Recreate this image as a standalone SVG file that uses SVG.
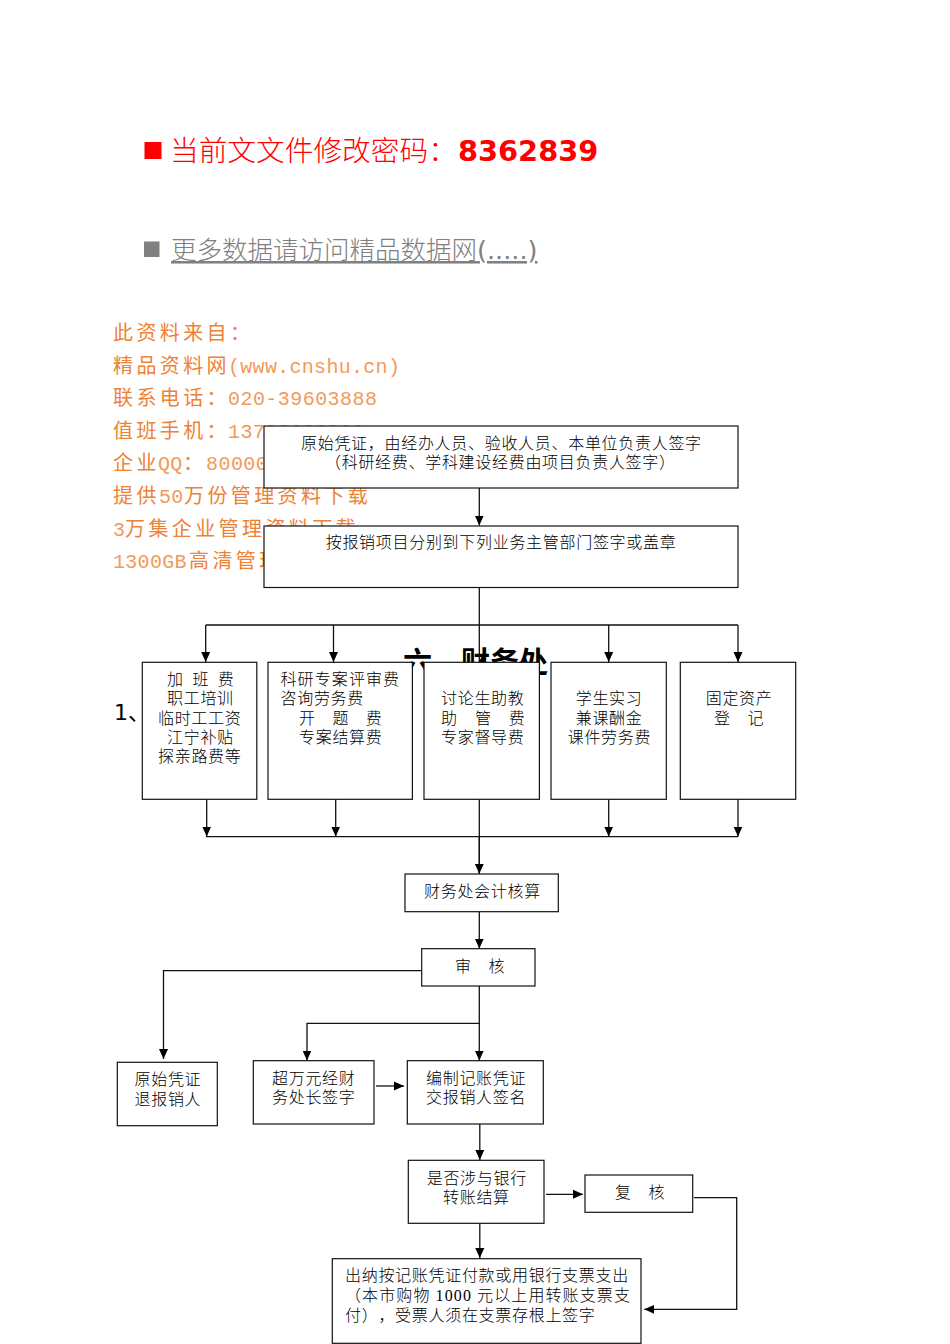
<svg xmlns="http://www.w3.org/2000/svg" width="950" height="1344" viewBox="0 0 950 1344">
<style>
text{text-spacing-trim:space-all}
.t{font-family:"Liberation Serif","Noto Sans CJK SC",serif;font-size:16px;letter-spacing:.7px;fill:#000;font-weight:300}
.b{fill:#fff;stroke:#111;stroke-width:1.2}
.c{fill:none;stroke:#111;stroke-width:1.3}
.a{marker-end:url(#ah)}
.o{font-family:"Liberation Mono","Noto Sans CJK SC",monospace;font-size:20px;fill:#ee8236;font-weight:400}
.z{letter-spacing:3.4px}
.l{letter-spacing:.3px;fill:#f29a5a}
.d{letter-spacing:.45px}
</style>
<defs><marker id="ah" markerUnits="userSpaceOnUse" markerWidth="10" markerHeight="10" refX="10" refY="5" orient="auto"><path d="M0 .5L10 5L0 9.5Z" fill="#000"/></marker></defs>
<rect width="950" height="1344" fill="#fff"/>
<g id="notices">
<rect x="144.5" y="142" width="17" height="17" fill="#f00"/>
<text x="170" y="161" font-family="'DejaVu Sans','Noto Sans CJK SC',sans-serif" font-size="28.7" fill="#f00" font-weight="300">当前文文件修改密码：<tspan x="458" font-size="28.8" font-weight="700">8362839</tspan></text>
<rect x="144" y="241.5" width="15.5" height="15.5" fill="#808080"/>
<text x="171" y="259" font-family="'DejaVu Sans','Noto Sans CJK SC',sans-serif" font-size="25.5" fill="#808080" font-weight="300" text-decoration="underline">更多数据请访问精品数据网<tspan font-weight="400">(.....)</tspan></text>
</g>
<g id="source">
<text class="o" x="113" y="340"><tspan class="z">此资料来自：</tspan></text>
<text class="o" x="113" y="372.6"><tspan class="z">精品资料网</tspan><tspan x="228" class="l">(www.cnshu.cn)</tspan></text>
<text class="o" x="113" y="405.2"><tspan class="z">联系电话：</tspan><tspan x="228" class="l d">020-39603888</tspan></text>
<text class="o" x="113" y="437.8"><tspan class="z">值班手机：</tspan><tspan x="228" class="l d">13788888888</tspan></text>
<text class="o" x="113" y="470.4"><tspan class="z">企业</tspan><tspan x="158" class="l">QQ</tspan><tspan x="183">：</tspan><tspan x="206" class="l d">80000</tspan></text>
<text class="o" x="113" y="503"><tspan class="z">提供</tspan><tspan x="159" class="l">50</tspan><tspan x="184" class="z">万份管理资料下载</tspan></text>
<text class="o" x="113" y="535.6"><tspan class="l">3</tspan><tspan x="125" class="z">万集企业管理资料下载</tspan></text>
<text class="o" x="113" y="568.2"><tspan class="l">1300GB</tspan><tspan x="189" class="z">高清管理</tspan></text>
</g>
<g id="heading">
<text x="403" y="673" font-family="'DejaVu Sans','Noto Sans CJK SC',sans-serif" font-size="29" font-weight="700" fill="#000">六、财务处</text>
<text x="114" y="720" font-family="'DejaVu Sans','Noto Sans CJK SC',sans-serif" font-size="22" fill="#000">1、</text>
</g>
<g id="connectors">
<path class="c a" d="M479.3 488V525.5"/>
<path class="c" d="M479.3 587V874M205.7 625H738"/>
<path class="c a" d="M205.7 625V662"/>
<path class="c a" d="M333.5 625V662"/>
<path class="c a" d="M608.7 625V662"/>
<path class="c a" d="M738 625V662"/>
<path class="c a" d="M206.7 799V836.5"/>
<path class="c a" d="M335.7 799V836.5"/>
<path class="c a" d="M608.7 799V836.5"/>
<path class="c a" d="M738 799V836.5"/>
<path class="c" d="M206 836.7H738"/>
<path class="c a" d="M479.3 836.7V873.8"/>
<path class="c a" d="M479.3 912V948.6"/>
<path class="c a" d="M422 970.7H163.5V1059"/>
<path class="c a" d="M479.3 986V1060.5"/>
<path class="c a" d="M479.3 1023.3H307V1060.5"/>
<path class="c a" d="M376 1086H404"/>
<path class="c a" d="M479.8 1124V1160"/>
<path class="c a" d="M546 1194.3H583"/>
<path class="c a" d="M694 1197.7H736.7V1309.3H644.3"/>
<path class="c a" d="M479.8 1223V1258"/>
</g>
<g id="n1"><rect class="b" x="264" y="426" width="474" height="62"/>
<text class="t" x="301" y="449">原始凭证，由经办人员、验收人员、本单位负责人签字</text>
<text class="t" x="325" y="468">（科研经费、学科建设经费由项目负责人签字）</text></g>
<g id="n2"><rect class="b" x="264" y="526" width="474" height="61.5"/>
<text class="t" x="325.7" y="548">按报销项目分别到下列业务主管部门签字或盖章</text></g>
<g id="n3"><rect class="b" x="142.3" y="662.3" width="114.5" height="137"/>
<text class="t" x="167" y="685" word-spacing="4">加 班 费</text>
<text class="t" x="167" y="704">职工培训</text>
<text class="t" x="158" y="723.5">临时工工资</text>
<text class="t" x="167" y="742.5">江宁补贴</text>
<text class="t" x="158" y="762">探亲路费等</text></g>
<g id="n4"><rect class="b" x="268" y="662.3" width="144.4" height="137"/>
<text class="t" x="280.5" y="685" style="letter-spacing:1.1px">科研专案评审费</text>
<text class="t" x="280.5" y="704">咨询劳务费</text>
<text class="t" x="299" y="723.5" word-spacing="12">开 题 费</text>
<text class="t" x="299" y="742.5">专案结算费</text></g>
<g id="n5"><rect class="b" x="424" y="662.3" width="115.4" height="137"/>
<text class="t" x="441" y="704">讨论生助教</text>
<text class="t" x="441" y="723.5" word-spacing="12.5">助 管 费</text>
<text class="t" x="441" y="742.5">专家督导费</text></g>
<g id="n6"><rect class="b" x="551" y="662.3" width="115.3" height="137"/>
<text class="t" x="575.7" y="704">学生实习</text>
<text class="t" x="575.7" y="723.5">兼课酬金</text>
<text class="t" x="567.7" y="742.5">课件劳务费</text></g>
<g id="n7"><rect class="b" x="680.3" y="662.3" width="115.4" height="137"/>
<text class="t" x="705.7" y="704">固定资产</text>
<text class="t" x="714" y="723.5" word-spacing="12">登 记</text></g>
<g id="n8"><rect class="b" x="405" y="874" width="153.3" height="37.7"/>
<text class="t" x="424" y="896.5">财务处会计核算</text></g>
<g id="n9"><rect class="b" x="421.7" y="948.7" width="113.3" height="37.3"/>
<text class="t" x="455" y="971.5" word-spacing="12">审 核</text></g>
<g id="n10"><rect class="b" x="117.3" y="1062.3" width="100" height="63.4"/>
<text class="t" x="134.5" y="1085">原始凭证</text>
<text class="t" x="134.5" y="1104.5">退报销人</text></g>
<g id="n11"><rect class="b" x="253.3" y="1060.7" width="120.7" height="63.3"/>
<text class="t" x="272" y="1083.5">超万元经财</text>
<text class="t" x="272" y="1102.5">务处长签字</text></g>
<g id="n12"><rect class="b" x="407.3" y="1060.7" width="136" height="63.3"/>
<text class="t" x="426" y="1083.5">编制记账凭证</text>
<text class="t" x="426" y="1102.5">交报销人签名</text></g>
<g id="n13"><rect class="b" x="408.3" y="1160.3" width="135.7" height="63"/>
<text class="t" x="426.7" y="1183.5">是否涉与银行</text>
<text class="t" x="443" y="1202.5">转账结算</text></g>
<g id="n14"><rect class="b" x="585" y="1175" width="107.7" height="37.3"/>
<text class="t" x="615" y="1197.5" word-spacing="12">复 核</text></g>
<g id="n15"><rect class="b" x="332.3" y="1258.7" width="308.7" height="84.6"/>
<text class="t" x="345" y="1281">出纳按记账凭证付款或用银行支票支出</text>
<text class="t" x="345" y="1300.5" style="letter-spacing:1.1px">（本市购物 1000 元以上用转账支票支</text>
<text class="t" x="345" y="1320.5">付），受票人须在支票存根上签字</text></g>
</svg>
